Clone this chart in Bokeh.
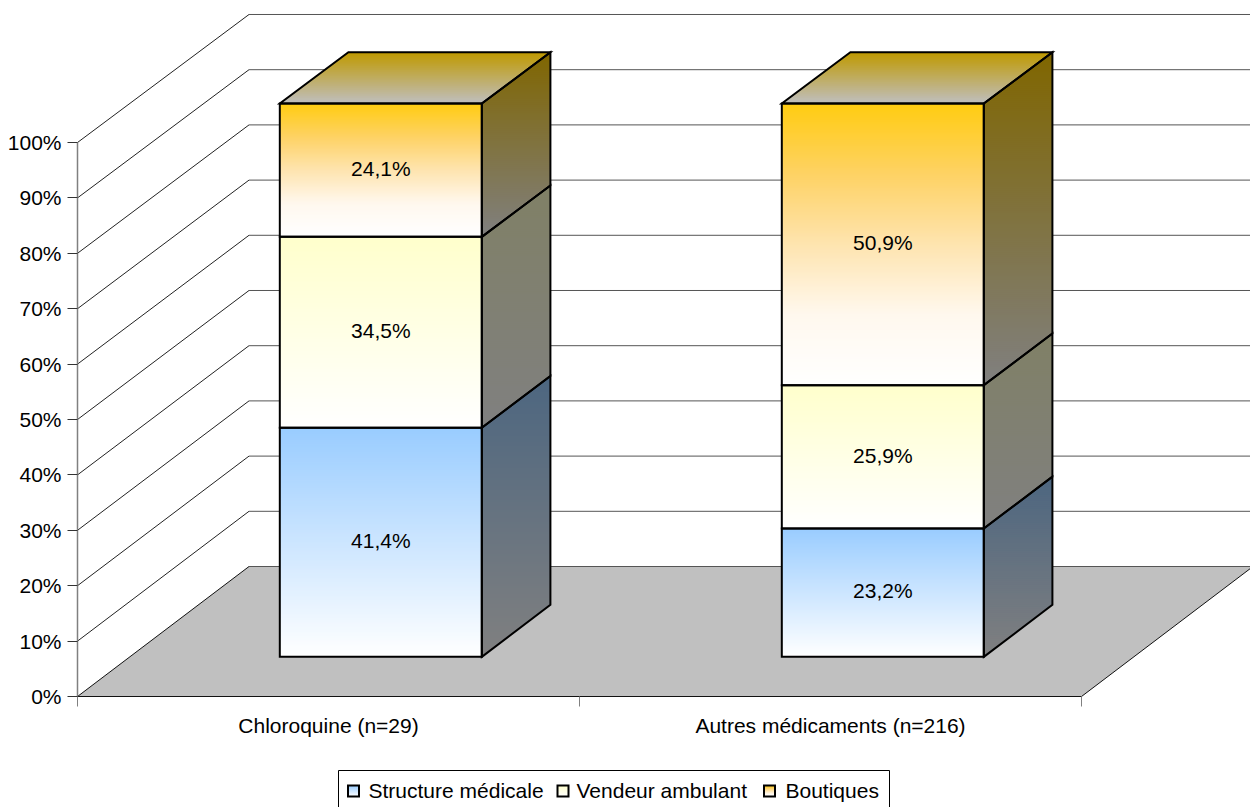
from bokeh.plotting import figure
from bokeh.embed import file_html
from bokeh.resources import INLINE
from bokeh.core.properties import value
from bokeh.models import Range1d, LinearAxis, FixedTicker, PrintfTickFormatter

# ---- data -------------------------------------------------------------
categories = ["Chloroquine (n=29)", "Autres médicaments (n=216)"]
series_names = ["Structure médicale", "Vendeur ambulant", "Boutiques"]
structure_medicale = [41.4, 23.2]
vendeur_ambulant = [34.5, 25.9]
boutiques = [24.1, 50.9]
y_ticks = [0, 10, 20, 30, 40, 50, 60, 70, 80, 90, 100]

# ---- style / projection ----------------------------------------------
series_values = [structure_medicale, vendeur_ambulant, boutiques]
series_colors = [(153, 204, 255), (255, 255, 204), (255, 204, 0)]
WHITE = (255, 255, 255)
front_stops = [
    [(0, series_colors[0]), (1, WHITE)],
    [(0, series_colors[1]), (1, WHITE)],
    [(0, (255, 204, 17)), (.25, (254, 210, 100)), (.5, (254, 228, 175)), (.75, (255, 248, 238)), (1, WHITE)],
]
FONT = "Liberation Sans"
FS = "21px"
W, H = 1250, 807
ORIGIN_X, ORIGIN_Y = 77, 696          # where (0, 0%) falls on the page
CAT_PX, PCT_PX = 502.0, 5.54
DEPTH_X = 171.5 / CAT_PX
DEPTH_Y = 130.0 / PCT_PX
DEPTH_SHRINK = 0.0036
BAR_W = 202.0 / CAT_PX
BAR_FRONT, BAR_DEPTH = 0.305, 0.40
BAND = 2.0 / PCT_PX
OVERLAP = 1.0 / PCT_PX


def proj(cat, pct, depth):
    return cat + depth * DEPTH_X, pct * (1 - depth * DEPTH_SHRINK) + depth * DEPTH_Y


def page_x(px):
    return (px - ORIGIN_X) / CAT_PX


def page_y(py):
    return (ORIGIN_Y - py) / PCT_PX


def hexc(c):
    return "#%02x%02x%02x" % tuple(int(round(v)) for v in c)


def mix(a, b, t):
    return tuple(a[i] + (b[i] - a[i]) * t for i in range(3))


def ramp(stops, t):
    for (t0, c0), (t1, c1) in zip(stops, stops[1:]):
        if t <= t1:
            return mix(c0, c1, (t - t0) / (t1 - t0))
    return stops[-1][1]


def clip(poly, ymin, ymax):
    def cut(pts, inside, yb):
        out = []
        for k in range(len(pts)):
            p0, p1 = pts[k], pts[(k + 1) % len(pts)]
            if inside(p0):
                out.append(p0)
            if inside(p0) != inside(p1):
                t = (yb - p0[1]) / (p1[1] - p0[1])
                out.append((p0[0] + t * (p1[0] - p0[0]), yb))
        return out
    pts = cut(poly, lambda q: q[1] >= ymin, ymin)
    if pts:
        pts = cut(pts, lambda q: q[1] <= ymax, ymax)
    return pts


strip_x, strip_y, strip_c = [], [], []


def gradient_face(poly, stops, band=BAND):
    ys = [q[1] for q in poly]
    hi, lo = max(ys), min(ys)
    y = hi
    while y > lo:
        y2 = max(y - band, lo)
        pts = clip(poly, max(y2 - OVERLAP, lo), y)
        if len(pts) >= 3:
            strip_x.append([q[0] for q in pts])
            strip_y.append([q[1] for q in pts])
            strip_c.append(hexc(ramp(stops, (hi - (y + y2) / 2) / (hi - lo))))
        y = y2


p = figure(width=W, height=H, output_backend="svg", toolbar_location=None,
           x_range=Range1d(page_x(0), page_x(W)), y_range=Range1d(page_y(H), page_y(0)),
           min_border=0, x_axis_type=None, y_axis_type=None, outline_line_color=None)
p.grid.visible = False
p.background_fill_color = "white"

# floor
n_cat = len(categories)
floor = [proj(0, 0, 0), proj(n_cat, 0, 0), proj(n_cat, 0, 1), proj(0, 0, 1)]
p.patch([q[0] for q in floor], [q[1] for q in floor], fill_color="#c0c0c0", line_color=None)
p.line([floor[3][0], floor[0][0], floor[1][0], floor[2][0]],
       [floor[3][1], floor[0][1], floor[1][1], floor[2][1]], line_color="#111111", line_width=1)

# walls
for t in y_ticks:
    a, b, c = proj(0, t, 0), proj(0, t, 1), proj(n_cat, t, 1)
    if t > 0:
        p.line([a[0], b[0]], [a[1], b[1]], line_color="#222222", line_width=1)
    p.line([b[0], c[0]], [b[1], c[1]], line_color="#555555", line_width=1)

# bars
out_x, out_y = [], []
label_x, label_y, label_t = [], [], []
for i in range(n_cat):
    base = 0.0
    x0 = i + (1 - BAR_W) / 2
    x1 = x0 + BAR_W
    for s, vals in enumerate(series_values):
        top = base + vals[i]
        col = series_colors[s]
        front = [proj(x0, base, BAR_FRONT), proj(x1, base, BAR_FRONT),
                 proj(x1, top, BAR_FRONT), proj(x0, top, BAR_FRONT)]
        side = [proj(x1, base, BAR_FRONT), proj(x1, base, BAR_FRONT + BAR_DEPTH),
                proj(x1, top, BAR_FRONT + BAR_DEPTH), proj(x1, top, BAR_FRONT)]
        gradient_face(front, front_stops[s])
        gradient_face(side, [(0, mix((0, 0, 0), col, .5)), (1, (128, 128, 128))])
        polys = [front, side]
        if s == len(series_values) - 1:
            cap = [proj(x0, top, BAR_FRONT), proj(x1, top, BAR_FRONT),
                   proj(x1, top, BAR_FRONT + BAR_DEPTH), proj(x0, top, BAR_FRONT + BAR_DEPTH)]
            gradient_face(cap, [(0, mix((0, 0, 0), col, .75)), (1, (191, 191, 191))])
            polys.append(cap)
        for q in polys:
            out_x.append([v[0] for v in q])
            out_y.append([v[1] for v in q])
        lx, ly = proj((x0 + x1) / 2, (base + top) / 2, BAR_FRONT)
        label_x.append(lx)
        label_y.append(ly + 0.3)
        label_t.append(("%.1f%%" % vals[i]).replace(".", ","))
        base = top

# legend box and keys
leg_left, leg_right, leg_top, leg_bottom = 338, 889, 770, 815
p.quad(left=[page_x(leg_left)], right=[page_x(leg_right)], top=[page_y(leg_top)], bottom=[page_y(leg_bottom)],
       fill_color="white", line_color="#000000", line_width=1)
key_left = [347.5, 557, 763.5]
key_text = [368, 576, 785]
key_size, key_top, text_mid = 11, 785, 789.5
for s, col in enumerate(series_colors):
    q = [(page_x(key_left[s]), page_y(key_top + key_size)),
         (page_x(key_left[s] + key_size), page_y(key_top + key_size)),
         (page_x(key_left[s] + key_size), page_y(key_top)),
         (page_x(key_left[s]), page_y(key_top))]
    gradient_face(q, front_stops[s], band=1.0 / PCT_PX)
    out_x.append([v[0] for v in q])
    out_y.append([v[1] for v in q])

p.patches(strip_x, strip_y, fill_color=strip_c, line_color=None)
p.patches(out_x, out_y, fill_alpha=0, line_color="#000000", line_width=2, line_join="miter")

p.text(label_x, label_y, text=label_t, text_font=value(FONT), text_font_size=value(FS),
       text_color="#000000", text_align="center", text_baseline="middle")
p.text([page_x(v) for v in key_text], [page_y(text_mid)] * 3, text=series_names,
       text_font=value(FONT), text_font_size=value(FS), text_color="#000000",
       text_align="left", text_baseline="middle")

# axes
yax = LinearAxis(ticker=FixedTicker(ticks=y_ticks), formatter=PrintfTickFormatter(format="%d%%"),
                 bounds=(0, 100), fixed_location=0, axis_line_color="#808080", axis_line_width=1.5,
                 major_tick_line_color="#333333", major_tick_in=0, major_tick_out=10,
                 minor_tick_line_color=None, major_label_standoff=6,
                 major_label_text_font=FONT, major_label_text_font_size=FS,
                 major_label_text_color="#000000")
p.add_layout(yax, "left")

xax = LinearAxis(ticker=FixedTicker(ticks=[i + .5 for i in range(n_cat)],
                                    minor_ticks=list(range(n_cat + 1))),
                 major_label_overrides={i + .5: c for i, c in enumerate(categories)},
                 fixed_location=0, axis_line_color=None, major_tick_line_color=None,
                 major_tick_in=0, major_tick_out=0,
                 minor_tick_line_color="#808080", minor_tick_in=0, minor_tick_out=10,
                 major_label_standoff=7, major_label_text_font=FONT, major_label_text_font_size=FS,
                 major_label_text_color="#000000")
p.add_layout(xax, "below")

open("out.html", "w").write(file_html(p, INLINE))
